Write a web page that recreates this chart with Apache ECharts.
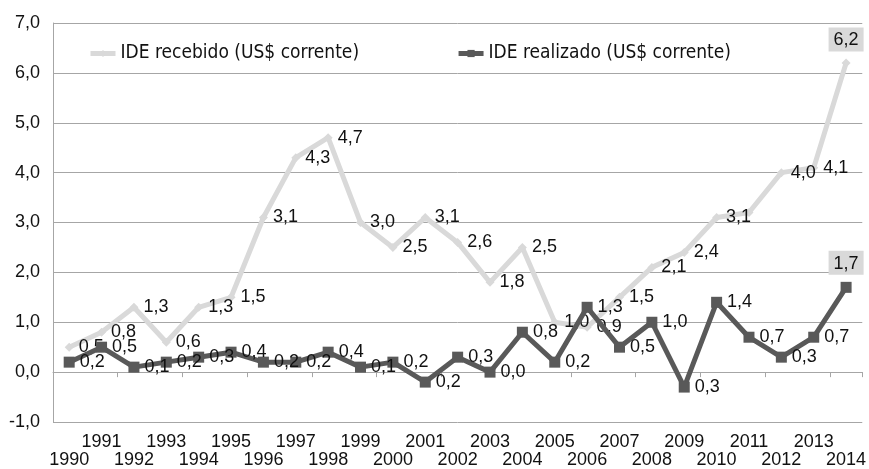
<!DOCTYPE html>
<html>
<head>
<meta charset="utf-8">
<script src="https://cdn.jsdelivr.net/npm/echarts@6/dist/echarts.min.js"></script>
<style>
  html, body { margin: 0; padding: 0; background: #fff; }
  #chart { width: 869px; height: 469px; }
</style>
</head>
<body>
<div id="chart"></div>
<script>
  // anos
  var years = ['1990', '1991', '1992', '1993', '1994', '1995', '1996', '1997', '1998', '1999',
    '2000', '2001', '2002', '2003', '2004', '2005', '2006', '2007', '2008', '2009',
    '2010', '2011', '2012', '2013', '2014'];
  // IDE recebido (US$ corrente)
  var recebido = [0.5, 0.8, 1.3, 0.6, 1.3, 1.5, 3.1, 4.3, 4.7, 3.0,
    2.5, 3.1, 2.6, 1.8, 2.5, 1.0, 0.9, 1.5, 2.1, 2.4,
    3.1, 3.2, 4.0, 4.1, 6.2];
  // IDE realizado (US$ corrente)
  var realizado = [0.2, 0.5, 0.1, 0.2, 0.3, 0.4, 0.2, 0.2, 0.4, 0.1,
    0.2, -0.2, 0.3, 0.0, 0.8, 0.2, 1.3, 0.5, 1.0, -0.3,
    1.4, 0.7, 0.3, 0.7, 1.7];
  var hiddenLabel = [21]; // rótulo de 2011 não aparece no original

  var FONT = 'Liberation Sans';
  var fmt = function (v) { return Math.abs(v).toFixed(1).replace('.', ','); };

  var lastLabel = {
    position: 'top',
    distance: 7,
    backgroundColor: '#d9d9d9',
    padding: [4, 5, 2, 5]
  };

  function buildData(arr, hide) {
    return arr.map(function (v, i) {
      if (i === arr.length - 1) return { value: v, label: lastLabel };
      if (hide && hide.indexOf(i) >= 0) return { value: v, label: { show: false } };
      return v;
    });
  }

  var chart = echarts.init(document.getElementById('chart'));
  chart.setOption({
    animation: false,
    textStyle: { fontFamily: FONT },
    grid: { left: 53, right: 1, top: 23, bottom: 47, containLabel: false },
    legend: {
      left: 83,
      top: 39,
      itemGap: 97,
      itemWidth: 25,
      itemHeight: 9,
      textStyle: { fontFamily: 'DejaVu Sans Condensed', fontSize: 19, color: '#111' },
      data: [
        { name: 'IDE recebido (US$ corrente)', lineStyle: { width: 5 } },
        { name: 'IDE realizado (US$ corrente)', lineStyle: { width: 5 } }
      ]
    },
    xAxis: [{
      type: 'category',
      data: years,
      boundaryGap: true,
      axisLine: { onZero: true, lineStyle: { color: '#a6a6a6', width: 1 } },
      axisTick: { show: true, length: 5, lineStyle: { color: '#a6a6a6' } },
      axisLabel: { show: false }
    }, {
      type: 'category',
      data: years,
      position: 'bottom',
      boundaryGap: true,
      axisLine: { show: false, onZero: false },
      axisTick: { show: false },
      axisLabel: {
        interval: 0,
        margin: 11,
        fontSize: 18,
        color: '#111',
        lineHeight: 18,
        formatter: function (v, i) { return i % 2 === 0 ? '\n' + v : v; }
      }
    }],
    yAxis: {
      type: 'value',
      min: -1,
      max: 7,
      interval: 1,
      axisLine: { show: true, lineStyle: { color: '#a6a6a6' } },
      axisTick: { show: false },
      splitLine: { lineStyle: { color: '#a6a6a6', width: 1 } },
      axisLabel: {
        fontSize: 18,
        color: '#111',
        margin: 13,
        formatter: function (v) { return v.toFixed(1).replace('.', ','); }
      }
    },
    series: [{
      name: 'IDE recebido (US$ corrente)',
      type: 'line',
      xAxisIndex: 0,
      data: buildData(recebido, hiddenLabel),
      symbol: 'diamond',
      symbolSize: 9,
      lineStyle: { color: '#d9d9d9', width: 5 },
      itemStyle: { color: '#d9d9d9' },
      label: {
        show: true, position: 'right', distance: 5,
        fontSize: 18, color: '#111', formatter: function (p) { return fmt(p.value); }
      },
      z: 2
    }, {
      name: 'IDE realizado (US$ corrente)',
      type: 'line',
      xAxisIndex: 0,
      data: buildData(realizado),
      symbol: 'rect',
      symbolSize: 11,
      lineStyle: { color: '#595959', width: 5 },
      itemStyle: { color: '#595959' },
      label: {
        show: true, position: 'right', distance: 5,
        fontSize: 18, color: '#111', formatter: function (p) { return fmt(p.value); }
      },
      z: 3
    }]
  });
</script>
</body>
</html>
